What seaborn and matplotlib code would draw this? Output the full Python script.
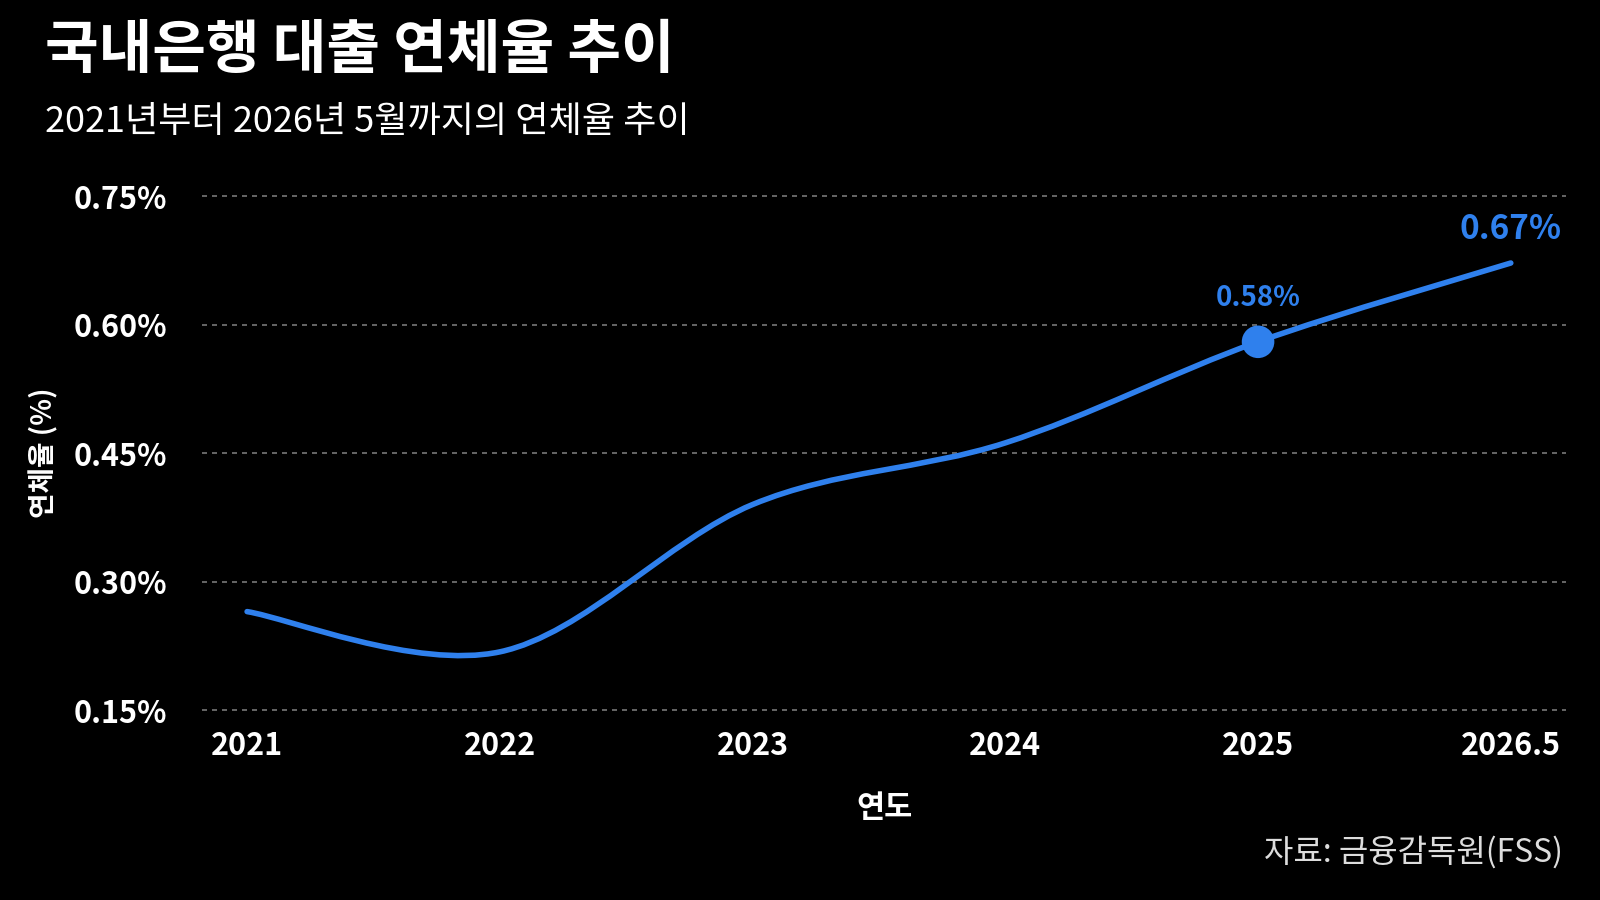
import numpy as np
import matplotlib
matplotlib.use('Agg')
import matplotlib.pyplot as plt
import seaborn as sns
from matplotlib.path import Path
from matplotlib.patches import PathPatch

# Datos
years = ['2021', '2022', '2023', '2024', '2025', '2026.5']
rates = [0.265, 0.218, 0.39, 0.462, 0.58, 0.672]
yticks = [0.15, 0.30, 0.45, 0.60, 0.75]

sns.set_style('dark')
plt.rcParams['font.family'] = ['Noto Sans CJK KR', 'DejaVu Sans']
blue = '#2f80ed'

fig = plt.figure(figsize=(16, 9), dpi=100, facecolor='black')
ax = fig.add_axes([0.126, 0.211, 0.853, 0.571], facecolor='black')

x = np.arange(len(years))
y = np.array(rates)

# Curva suave (Catmull-Rom -> Bezier)
verts = [(x[0], y[0])]
codes = [Path.MOVETO]
for i in range(len(x) - 1):
    p0 = (x[max(i - 1, 0)], y[max(i - 1, 0)])
    p1 = (x[i], y[i])
    p2 = (x[i + 1], y[i + 1])
    p3 = (x[min(i + 2, len(x) - 1)], y[min(i + 2, len(x) - 1)])
    c1 = (p1[0] + (p2[0] - p0[0]) / 6, p1[1] + (p2[1] - p0[1]) / 6)
    c2 = (p2[0] - (p3[0] - p1[0]) / 6, p2[1] - (p3[1] - p1[1]) / 6)
    verts += [c1, c2, p2]
    codes += [Path.CURVE4] * 3
ax.add_patch(PathPatch(Path(verts, codes), fc='none', ec=blue, lw=4, capstyle='round', zorder=3))

sns.scatterplot(x=[x[4]], y=[y[4]], ax=ax, s=550, color=blue, edgecolor='none', zorder=4)
ax.text(x[4], y[4] + 0.035, '0.58%', color=blue, fontsize=20, fontweight='bold', ha='center', va='bottom')
ax.text(x[5], y[5] + 0.02, '0.67%', color=blue, fontsize=24, fontweight='bold', ha='center', va='bottom')

ax.set_xlim(-0.18, 5.22)
ax.set_ylim(0.15, 0.75)
ax.set_xticks(x)
ax.set_xticklabels(years)
ax.set_yticks(yticks)
ax.set_yticklabels([f'{v:.2f}%' for v in yticks])
ax.tick_params(colors='white', labelsize=22, length=0)
for lab in ax.get_xticklabels() + ax.get_yticklabels():
    lab.set_fontweight('semibold')
ax.tick_params(axis='x', pad=14)
ax.tick_params(axis='y', pad=25)
for v in yticks:
    ax.axhline(v, color='#777777', ls=(0, (3, 3)), lw=1.2, zorder=1, clip_on=False)
ax.grid(False)
for s in ax.spines.values():
    s.set_visible(False)

ax.set_xlabel('연도', color='white', fontsize=22, fontweight='bold', labelpad=22)
ax.set_ylabel('연체율 (%)', color='white', fontsize=20, fontweight='bold')
ax.yaxis.set_label_coords(-0.105, 0.5)

fig.text(0.028, 0.943, '국내은행 대출 연체율 추이', color='white', fontsize=42, fontweight='bold', va='center')
fig.text(0.028, 0.864, '2021년부터 2026년 5월까지의 연체율 추이', color='white', fontsize=26, va='center')
fig.text(0.977, 0.053, '자료: 금융감독원(FSS)', color='#dddddd', fontsize=23, ha='right', va='center')

fig.savefig('out.png', dpi=100, facecolor='black')
